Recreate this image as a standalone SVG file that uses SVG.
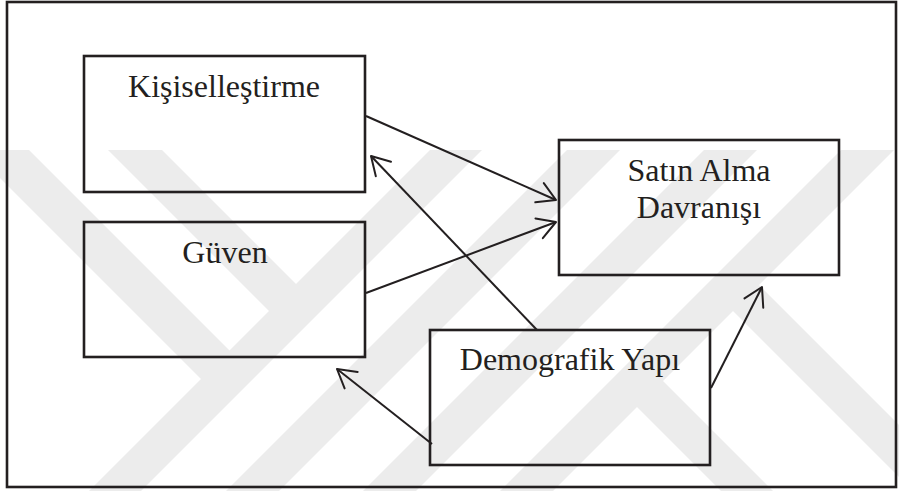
<svg xmlns="http://www.w3.org/2000/svg" width="899" height="491" viewBox="0 0 899 491">
  <style>
    .box { fill: none; stroke: #231f20; stroke-width: 2.6; }
    .lbl { font-family: "Liberation Serif", "Times New Roman", serif; font-size: 32px; fill: #231f20; text-anchor: middle; }
    .conn { fill: none; stroke: #231f20; stroke-width: 2; marker-end: url(#arr); }
    .wm { fill: #ececec; }
  </style>
  <defs>
    <marker id="arr" markerUnits="userSpaceOnUse" markerWidth="30" markerHeight="30" viewBox="-22 -15 26 30" refX="0" refY="0" orient="auto" overflow="visible">
      <path d="M-18,-10.5 L0,0 L-18,10.5" fill="none" stroke="#231f20" stroke-width="2" stroke-linejoin="round" stroke-linecap="round"/>
    </marker>
    <clipPath id="wmclip">
      <rect x="0" y="150" width="899" height="341"/>
    </clipPath>
  </defs>
  <rect x="0" y="0" width="899" height="491" fill="#ffffff"/>
  <g id="watermark" clip-path="url(#wmclip)">
    <polygon class="wm" points="480,100 532,100 82,550 30,550"/>
    <polygon class="wm" points="617,100 670,100 220,550 167,550"/>
    <polygon class="wm" points="754,100 807,100 357,550 304,550"/>
    <polygon class="wm" points="891,100 944,100 494,550 441,550"/>
    <polygon class="wm" points="-78,100 -21,100 234.5,355.5 206,384"/>
    <polygon class="wm" points="58,100 112,100 301,289 274,316"/>
    <polygon class="wm" points="658,376 832,550 780,550 632,402"/>
    <polygon class="wm" points="754,280 1024,550 972,550 728,306"/>
  </g>
  <rect id="frame" x="7" y="2" width="889" height="485" class="box"/>
  <g id="connectors">
    <line class="conn" x1="366" y1="116" x2="556" y2="200"/>
    <line class="conn" x1="366" y1="293" x2="556" y2="222"/>
    <line class="conn" x1="537" y1="330" x2="371" y2="156"/>
    <line class="conn" x1="432" y1="444" x2="337" y2="369"/>
    <line class="conn" x1="711" y1="388" x2="762" y2="287"/>
  </g>
  <g id="kisisellestirme">
    <rect class="box" x="84" y="56" width="281" height="136"/>
    <text class="lbl" x="224" y="97">Kişiselleştirme</text>
  </g>
  <g id="guven">
    <rect class="box" x="84" y="222" width="281" height="135"/>
    <text class="lbl" x="225" y="263">Güven</text>
  </g>
  <g id="satin-alma">
    <rect class="box" x="559" y="140" width="280" height="135"/>
    <text class="lbl" x="699" y="181">Satın Alma</text>
    <text class="lbl" x="699" y="218">Davranışı</text>
  </g>
  <g id="demografik">
    <rect class="box" x="430" y="330" width="280" height="135"/>
    <text class="lbl" x="570" y="370">Demografik Yapı</text>
  </g>
</svg>
